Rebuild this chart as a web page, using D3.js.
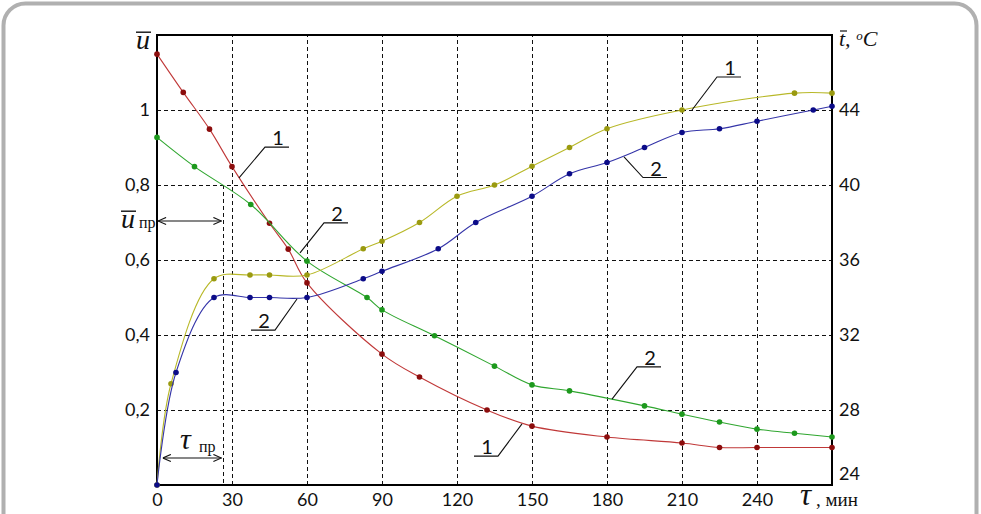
<!DOCTYPE html>
<html>
<head>
<meta charset="utf-8">
<script src="https://cdn.jsdelivr.net/npm/d3@7"></script>
<style>
body { margin: 0; background: #fff; }
.tick text { font-family: Lato, "Open Sans", sans-serif; font-size: 18px; fill: #111; }
.serif { font-family: "Liberation Serif", "DejaVu Serif", serif; fill: #111; }
</style>
</head>
<body>
<svg id="chart" width="981" height="514"></svg>
<script>
// axis ticks
const timeTicks = [0, 30, 60, 90, 120, 150, 180, 210, 240];
const uTicks = [0.2, 0.4, 0.6, 0.8, 1];
const tTicks = [24, 28, 32, 36, 40, 44];

// curve 1, relative moisture u (red)
const tauU1 = [0, 10.5, 21, 30, 45, 52.5, 60, 90, 105, 132, 150, 180, 210, 225, 240, 270];
const u1 = [1.149, 1.047, 0.949, 0.849, 0.698, 0.629, 0.539, 0.349, 0.288, 0.2, 0.157, 0.128, 0.112, 0.1, 0.1, 0.1];

// curve 2, relative moisture u (green)
const tauU2 = [0, 15, 37.5, 60, 84, 90, 111, 135, 150, 165, 195, 210, 225, 240, 255, 270];
const u2 = [0.927, 0.849, 0.748, 0.597, 0.5, 0.467, 0.398, 0.317, 0.267, 0.251, 0.211, 0.189, 0.168, 0.149, 0.138, 0.128];

// curve 1, temperature t (olive)
const tauT1 = [0, 5.6, 22.8, 37.2, 45, 60, 82.5, 90, 105, 120, 135, 150, 165, 180, 210, 255, 270];
const t1 = [24, 29.4, 35.0, 35.2, 35.2, 35.2, 36.6, 37.0, 38.0, 39.4, 40.0, 41.0, 42.0, 43.0, 44.0, 44.9, 44.9];

// curve 2, temperature t (blue)
const tauT2 = [0, 7.6, 22.8, 37.2, 45, 60, 82.5, 90, 112.5, 127.5, 150, 165, 180, 195, 210, 225, 240, 262.5, 270];
const t2 = [24, 30.0, 34.0, 34.0, 34.0, 34.0, 35.0, 35.4, 36.6, 38.0, 39.4, 40.6, 41.2, 42.0, 42.8, 43.0, 43.4, 44.0, 44.2];

// critical point
const tauCr = 26.5;
const uCr = 0.704;

// curve labels: anchor on curve (tau,u), knee (tau,u), underline direction
const notes = [
    {label: "1", at: [32.8, 0.819], knee: [43.2, 0.901], dir: 1},
    {label: "2", at: [57.2, 0.619], knee: [66.8, 0.699], dir: 1},
    {label: "2", at: [56, 0.496], knee: [47.2, 0.413], dir: -1},
    {label: "1", at: [214, 1.0], knee: [224, 1.088], dir: 1},
    {label: "2", at: [186.8, 0.875], knee: [194.4, 0.82], dir: 1},
    {label: "2", at: [182, 0.229], knee: [192, 0.315], dir: 1},
    {label: "1", at: [146, 0.163], knee: [136.4, 0.077], dir: -1}
];

const svg = d3.select("#chart");

// outer rounded frame
svg.append("rect")
    .attr("x", 3.5).attr("y", 3.5)
    .attr("width", 973).attr("height", 540)
    .attr("rx", 22)
    .attr("fill", "none")
    .attr("stroke", "#b0b0b0")
    .attr("stroke-width", 4);

const x = d3.scaleLinear().domain([0, 270]).range([157, 832]);
const y = d3.scaleLinear().domain([0, 1.2]).range([485, 35]);
const yT = d3.scaleLinear().domain([24, 48]).range([485, 35]);

const px = v => Math.round(v) + 0.5;

// grid
svg.append("g").selectAll("line")
    .data(uTicks)
    .join("line")
    .attr("x1", x(0)).attr("x2", x(270))
    .attr("y1", d => px(y(d))).attr("y2", d => px(y(d)))
    .attr("stroke", "#111").attr("stroke-width", 1)
    .attr("stroke-dasharray", "4,3");

svg.append("g").selectAll("line")
    .data(timeTicks.filter(d => d > 0))
    .join("line")
    .attr("x1", d => px(x(d))).attr("x2", d => px(x(d)))
    .attr("y1", y(0)).attr("y2", y(1.2))
    .attr("stroke", "#111").attr("stroke-width", 1)
    .attr("stroke-dasharray", "4,3");

// critical time marker
svg.append("line")
    .attr("x1", px(x(tauCr))).attr("x2", px(x(tauCr)))
    .attr("y1", y(0.8)).attr("y2", y(0))
    .attr("stroke", "#111").attr("stroke-width", 1)
    .attr("stroke-dasharray", "4,3");

// axes
const fmt = d => String(d).replace(".", ",");

svg.append("g")
    .attr("transform", `translate(${x(0)},0)`)
    .call(d3.axisLeft(y).tickValues(uTicks).tickFormat(fmt).tickSize(0).tickPadding(7))
    .call(g => g.select(".domain").remove());

svg.append("g")
    .attr("transform", `translate(${x(270)},0)`)
    .call(d3.axisRight(yT).tickValues(tTicks).tickSize(0).tickPadding(7))
    .call(g => g.select(".domain").remove())
    .call(g => g.selectAll(".tick text").filter(d => d === 24).attr("dy", "-0.3em"));

svg.append("g")
    .attr("transform", `translate(0,${y(0)})`)
    .call(d3.axisBottom(x).tickValues(timeTicks).tickSize(0).tickPadding(8))
    .call(g => g.select(".domain").remove());

// plot frame
svg.append("rect")
    .attr("x", x(0)).attr("y", y(1.2))
    .attr("width", x(270) - x(0)).attr("height", y(0) - y(1.2))
    .attr("fill", "none").attr("stroke", "#000").attr("stroke-width", 2);

// series
const series = [
    {tau: tauU1, v: u1, s: y, line: "#c03838", dot: "#8c0d0d"},
    {tau: tauU2, v: u2, s: y, line: "#2fa62f", dot: "#1d991d"},
    {tau: tauT1, v: t1, s: yT, line: "#b8b828", dot: "#9a9a10"},
    {tau: tauT2, v: t2, s: yT, line: "#3434a8", dot: "#0c0c88"}
];

series.forEach(sr => {
    const pts = sr.tau.map((t, i) => [x(t), sr.s(sr.v[i])]);
    svg.append("path")
        .attr("d", d3.line().curve(d3.curveCatmullRom.alpha(0.5))(pts))
        .attr("fill", "none")
        .attr("stroke", sr.line)
        .attr("stroke-width", 1.1);
    svg.append("g").selectAll("circle")
        .data(pts)
        .join("circle")
        .attr("cx", d => d[0]).attr("cy", d => d[1])
        .attr("r", 2.8)
        .attr("fill", sr.dot);
});

// curve labels
notes.forEach(n => {
    const ax = x(n.at[0]), ay = y(n.at[1]);
    const kx = x(n.knee[0]), ky = y(n.knee[1]);
    const ex = kx + n.dir * 24;
    svg.append("path")
        .attr("d", `M${ax},${ay}L${kx},${ky}L${ex},${ky}`)
        .attr("fill", "none").attr("stroke", "#111").attr("stroke-width", 1.1);
    svg.append("text")
        .attr("x", (kx + ex) / 2 + 1).attr("y", ky - 2)
        .attr("text-anchor", "middle")
        .style("font-family", "Lato, 'Open Sans', sans-serif")
        .style("font-size", "20px")
        .attr("fill", "#111")
        .text(n.label);
});

// arrows
const defs = svg.append("defs");
defs.append("marker")
    .attr("id", "arr").attr("viewBox", "0 0 10 10")
    .attr("refX", 10).attr("refY", 5)
    .attr("markerWidth", 9).attr("markerHeight", 9)
    .attr("markerUnits", "userSpaceOnUse")
    .attr("orient", "auto-start-reverse")
    .append("path").attr("d", "M1,1L10,5L1,9")
    .attr("fill", "none").attr("stroke", "#111").attr("stroke-width", 1.2);

svg.append("line")
    .attr("x1", x(0.4)).attr("x2", x(25.8))
    .attr("y1", y(uCr)).attr("y2", y(uCr))
    .attr("stroke", "#111").attr("stroke-width", 1.2)
    .attr("marker-start", "url(#arr)").attr("marker-end", "url(#arr)");

svg.append("line")
    .attr("x1", x(2.3)).attr("x2", x(25.8))
    .attr("y1", y(0.072)).attr("y2", y(0.072))
    .attr("stroke", "#111").attr("stroke-width", 1.2)
    .attr("marker-start", "url(#arr)").attr("marker-end", "url(#arr)");

// symbol labels
function overU(g, cx, base, size) {
    g.append("text").attr("class", "serif")
        .attr("x", cx).attr("y", base)
        .attr("text-anchor", "middle")
        .style("font-size", size + "px").style("font-style", "italic")
        .text("u");
    g.append("line")
        .attr("x1", cx - 7).attr("x2", cx + 8)
        .attr("y1", base - size * 0.6).attr("y2", base - size * 0.6)
        .attr("stroke", "#111").attr("stroke-width", 1.4);
}

overU(svg, 143, 49, 28);
overU(svg, 128, 228, 28);
svg.append("text").attr("class", "serif")
    .attr("x", 139).attr("y", 228)
    .style("font-size", "16px").text("пр");

// right axis title
const tt = svg.append("text").attr("class", "serif")
    .attr("x", 839).attr("y", 46)
    .style("font-size", "22px").style("font-style", "italic");
tt.append("tspan").text("t, ");
tt.append("tspan").attr("dy", -6).style("font-size", "13px").text("o");
tt.append("tspan").attr("dy", 6).text("C");
svg.append("line")
    .attr("x1", 840).attr("x2", 847).attr("y1", 31).attr("y2", 31)
    .attr("stroke", "#111").attr("stroke-width", 1.2);

// bottom axis title
svg.append("text").attr("class", "serif")
    .attr("x", 800).attr("y", 505)
    .style("font-size", "31px").style("font-style", "italic")
    .text("τ");
svg.append("text").attr("class", "serif")
    .attr("x", 816).attr("y", 506)
    .style("font-size", "19px")
    .text(", мин");

// tau critical label
svg.append("text").attr("class", "serif")
    .attr("x", 180).attr("y", 449)
    .style("font-size", "30px").style("font-style", "italic")
    .text("τ");
svg.append("text").attr("class", "serif")
    .attr("x", 199).attr("y", 452)
    .style("font-size", "16px")
    .text("пр");
</script>
</body>
</html>
